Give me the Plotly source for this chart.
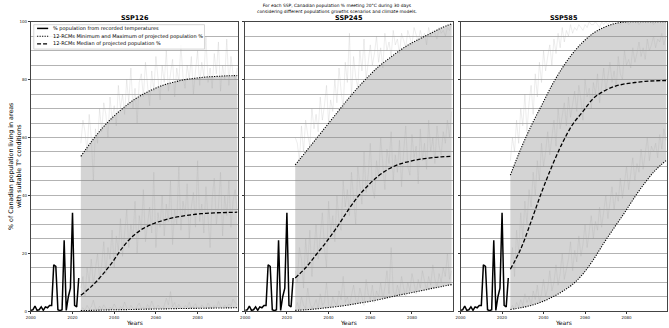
import plotly.graph_objects as go

W, H = 669, 328

# ---------------- data ----------------
obs_years = list(range(2000, 2024))
obs_values = [0.3, 0.5, 1.8, 0.3, 0.5, 1.5, 0.3, 1.5, 1.2, 2.0, 2.0, 16.0,
              15.5, 0.5, 0.2, 0.5, 24.5, 0.3, 5.0, 8.0, 34.0, 2.0, 1.5, 11.5]

proj_years = list(range(2024, 2100))
curve_years = [2024, 2029, 2034, 2039, 2044, 2049, 2054, 2059,
               2064, 2069, 2074, 2079, 2084, 2089, 2094, 2099]

scenarios = ["SSP126", "SSP245", "SSP585"]

# smoothed min / median / max curves
ssp126_max = [53.5, 58.5, 63.0, 66.8, 70.0, 72.8, 75.0, 76.8, 78.2, 79.2, 80.0, 80.5, 80.9, 81.1, 81.3, 81.4]
ssp126_med = [5.5, 8.5, 12.3, 16.8, 22.0, 26.0, 28.6, 30.3, 31.5, 32.4, 33.0, 33.5, 33.8, 34.0, 34.1, 34.2]
ssp126_min = [0.2, 0.3, 0.4, 0.5, 0.55, 0.6, 0.7, 0.75, 0.8, 0.9, 0.95, 1.0, 1.05, 1.1, 1.15, 1.2]

ssp245_max = [50.5, 55.0, 59.5, 64.0, 68.5, 73.0, 77.2, 81.0, 84.5, 87.3, 90.0, 92.3, 94.2, 96.0, 97.8, 99.3]
ssp245_med = [11.5, 15.0, 19.5, 24.0, 29.0, 34.5, 39.5, 43.5, 46.8, 49.2, 50.8, 51.8, 52.5, 53.0, 53.3, 53.5]
ssp245_min = [0.3, 0.5, 0.8, 1.2, 1.6, 2.1, 2.7, 3.3, 4.0, 4.8, 5.6, 6.3, 7.0, 7.8, 8.5, 9.2]

ssp585_max = [47.0, 56.0, 64.0, 71.0, 78.0, 84.0, 89.0, 93.0, 96.0, 98.0, 99.3, 99.9, 100.0, 100.0, 100.0, 100.0]
ssp585_med = [14.5, 21.5, 31.0, 41.0, 50.0, 58.0, 64.5, 69.0, 73.5, 76.0, 77.6, 78.5, 79.0, 79.4, 79.6, 79.7]
ssp585_min = [0.6, 1.2, 2.0, 3.2, 4.8, 6.8, 9.3, 12.9, 17.8, 23.5, 28.8, 34.0, 39.5, 44.5, 48.8, 52.0]

# raw yearly projections (light grey)
ssp126_raw_max = [58, 66, 62, 55, 68, 60, 45, 63, 58, 70,
                  62, 72, 68, 60, 74, 66, 71, 64, 78, 70,
                  75, 68, 80, 72, 84, 70, 77, 65, 79, 82,
                  74, 86, 78, 71, 83, 76, 88, 80, 73, 85,
                  79, 90, 76, 82, 87, 74, 84, 79, 92, 81,
                  77, 85, 80, 88, 75, 83, 90, 78, 86, 81,
                  95, 79, 84, 77, 89, 82, 93, 76, 85, 80,
                  94, 78, 88, 82, 80, 84]
ssp126_raw_med = [8, 12, 5, 15, 10, 18, 9, 14, 20, 11,
                  16, 24, 13, 22, 18, 28, 15, 26, 21, 32,
                  19, 27, 35, 22, 30, 25, 38, 20, 33, 28,
                  42, 24, 31, 36, 27, 48, 22, 34, 29, 40,
                  26, 37, 31, 45, 23, 35, 30, 50, 28, 38,
                  33, 44, 25, 36, 41, 29, 52, 31, 37, 27,
                  43, 34, 22, 39, 46, 30, 36, 48, 26, 40,
                  33, 45, 29, 38, 42, 35]
ssp126_raw_min = [0.5, 1.2, 0.3, 2.0, 0.8, 1.5, 3.8, 1.0, 0.4, 1.8,
                  0.6, 2.2, 1.0, 0.5, 1.4, 0.8, 2.5, 1.1, 0.3, 1.6,
                  0.9, 3.2, 1.2, 0.5, 2.0, 1.0, 0.6, 1.8, 2.8, 0.9,
                  1.4, 0.7, 2.3, 1.1, 3.5, 1.6, 0.8, 2.1, 1.3, 0.6,
                  1.9, 4.5, 2.2, 6.8, 1.5, 3.0, 1.0, 2.4, 1.2, 0.8,
                  2.0, 1.3, 3.1, 0.9, 1.7, 2.6, 1.1, 0.7, 2.2, 1.4,
                  1.0, 2.8, 1.6, 0.8, 2.0, 1.2, 3.4, 1.5, 0.9, 2.1,
                  1.3, 2.5, 1.8, 4.2, 3.0, 2.2]

ssp245_raw_max = [60, 58, 52, 64, 55, 66, 61, 57, 70, 63,
                  68, 62, 74, 66, 71, 78, 65, 73, 69, 80,
                  72, 84, 76, 70, 86, 79, 96, 74, 88, 81,
                  77, 90, 83, 94, 80, 87, 92, 85, 89, 95,
                  86, 91, 84, 96, 90, 93, 88, 97, 92, 94,
                  89, 96, 93, 91, 97, 94, 92, 98, 95, 93,
                  97, 94, 96, 92, 98, 95, 97, 96, 94, 98,
                  96, 97, 95, 98, 97, 99]
ssp245_raw_med = [14, 10, 22, 18, 8, 25, 16, 28, 12, 20,
                  30, 18, 26, 34, 22, 15, 38, 27, 33, 24,
                  40, 31, 28, 45, 36, 42, 33, 48, 39, 30,
                  50, 44, 37, 55, 41, 47, 58, 43, 39, 52,
                  46, 60, 49, 42, 56, 51, 62, 45, 54, 48,
                  59, 43, 55, 64, 50, 47, 61, 53, 57, 44,
                  63, 52, 58, 49, 66, 55, 60, 51, 64, 57,
                  54, 62, 58, 66, 60, 69]
ssp245_raw_min = [1, 3, 0.5, 5, 2, 1, 8, 3, 1, 2,
                  4, 1, 6, 2, 3, 10, 2, 1, 5, 3,
                  2, 7, 4, 12, 3, 5, 2, 6, 9, 4,
                  3, 8, 5, 2, 11, 6, 4, 9, 3, 7,
                  5, 10, 4, 8, 14, 6, 22, 7, 5, 9,
                  6, 12, 8, 5, 10, 7, 13, 9, 6, 11,
                  8, 14, 10, 7, 12, 9, 16, 11, 8, 13,
                  10, 15, 12, 20, 11, 14]

ssp585_raw_max = [52, 60, 55, 66, 58, 70, 64, 75, 62, 72,
                  78, 68, 82, 74, 86, 79, 90, 83, 88, 92,
                  85, 94, 89, 96, 91, 98, 93, 97, 95, 99,
                  96, 98, 97, 99, 98, 97, 99, 98, 100, 99,
                  99, 100, 99, 98, 100, 99, 100, 99, 100, 100,
                  99, 100, 100, 99, 100, 100, 100, 99, 100, 100,
                  100, 100, 99, 100, 100, 100, 100, 100, 100, 99,
                  100, 100, 100, 100, 100, 100]
ssp585_raw_med = [16, 22, 12, 28, 20, 34, 25, 38, 30, 42,
                  36, 48, 40, 52, 45, 58, 50, 55, 62, 54,
                  60, 66, 57, 70, 63, 68, 72, 64, 74, 67,
                  71, 76, 69, 78, 73, 66, 80, 74, 77, 70,
                  79, 75, 82, 72, 78, 84, 76, 81, 86, 79,
                  83, 77, 88, 82, 80, 90, 85, 87, 84, 91,
                  86, 89, 93, 88, 91, 87, 94, 90, 92, 95,
                  91, 94, 93, 96, 92, 95]
ssp585_raw_min = [1, 2, 0.5, 3, 1.5, 4, 2, 6, 3, 5,
                  2, 7, 4, 9, 3, 6, 11, 5, 8, 14,
                  7, 10, 16, 9, 13, 20, 11, 15, 18, 24,
                  14, 21, 17, 26, 19, 23, 30, 22, 27, 33,
                  25, 31, 28, 36, 29, 34, 40, 32, 37, 43,
                  35, 41, 38, 46, 39, 44, 50, 42, 47, 53,
                  45, 51, 48, 56, 49, 54, 60, 52, 57, 55,
                  58, 53, 61, 56, 63, 59]

curves = {
    "SSP126": (ssp126_min, ssp126_med, ssp126_max, [ssp126_raw_max, ssp126_raw_med, ssp126_raw_min]),
    "SSP245": (ssp245_min, ssp245_med, ssp245_max, [ssp245_raw_max, ssp245_raw_med, ssp245_raw_min]),
    "SSP585": (ssp585_min, ssp585_med, ssp585_max, [ssp585_raw_max, ssp585_raw_med, ssp585_raw_min]),
}

legend_labels = ["% population from recorded temperatures",
                 "12-RCMs Minimum and Maximum of projected population %",
                 "12-RCMs Median of projected population %"]
x_tick_vals = [2000, 2020, 2040, 2060, 2080]
y_tick_vals = [0, 20, 40, 60, 80, 100]

# ---------------- layout helpers ----------------
def px(x):
    return x / W

def py(y):
    return 1 - y / H

FONT = "DejaVu Sans"
x_domains = [(26, 235), (242, 451), (459, 667)]
y_dom = [py(313), py(19)]

DOT = "1.2px,1.3px"
DASH = "4px,2px"

fig = go.Figure()
layout = dict(
    width=W, height=H, margin=dict(l=0, r=0, t=0, b=0),
    paper_bgcolor="white", plot_bgcolor="white",
    showlegend=False, font=dict(family=FONT, color="black"),
)
annotations = []
shapes = []

for i, name in enumerate(scenarios):
    k = i + 1
    xa = "x" if k == 1 else f"x{k}"
    ya = "y" if k == 1 else f"y{k}"
    cmin, cmed, cmax, raws = curves[name]

    fig.add_trace(go.Scatter(x=curve_years, y=cmin, mode="lines", xaxis=xa, yaxis=ya,
                             line=dict(color="black", width=1.1, dash=DOT, shape="spline"),
                             hoverinfo="skip"))
    fig.add_trace(go.Scatter(x=curve_years, y=cmax, mode="lines", xaxis=xa, yaxis=ya,
                             fill="tonexty", fillcolor="rgba(128,128,128,0.34)",
                             line=dict(color="black", width=1.1, dash=DOT, shape="spline"),
                             hoverinfo="skip"))
    for r in raws:
        fig.add_trace(go.Scatter(x=proj_years, y=r, mode="lines", xaxis=xa, yaxis=ya,
                                 line=dict(color="rgba(160,160,160,0.32)", width=0.6),
                                 hoverinfo="skip"))
    fig.add_trace(go.Scatter(x=curve_years, y=cmed, mode="lines", xaxis=xa, yaxis=ya,
                             line=dict(color="black", width=1.3, dash=DASH, shape="spline"),
                             hoverinfo="skip"))
    fig.add_trace(go.Scatter(x=obs_years, y=obs_values, mode="lines", xaxis=xa, yaxis=ya,
                             line=dict(color="black", width=1.5), hoverinfo="skip"))

    d0, d1 = x_domains[i]
    layout["xaxis" if k == 1 else f"xaxis{k}"] = dict(
        domain=[px(d0), px(d1)], anchor=ya, range=[2000, 2099.5],
        tickvals=x_tick_vals, ticks="outside", ticklen=2, tickwidth=0.6, tickcolor="#333",
        tickfont=dict(size=4, family=FONT, color="#222"),
        showgrid=False, zeroline=False, showline=True, linecolor="#444", linewidth=0.8,
        mirror=True,
    )
    layout["yaxis" if k == 1 else f"yaxis{k}"] = dict(
        domain=y_dom, anchor=xa, range=[0, 100],
        tickvals=y_tick_vals, ticks="outside", ticklen=2, tickwidth=0.6, tickcolor="#333",
        tickfont=dict(size=4, family=FONT, color="#222"), showticklabels=(k == 1),
        showgrid=True, gridcolor="#b3b3b3", gridwidth=0.8,
        minor=dict(dtick=5, showgrid=True, gridcolor="#b3b3b3", gridwidth=0.8, ticks=""),
        zeroline=False, showline=True, linecolor="#444", linewidth=0.8, mirror=True,
    )
    cx = (d0 + d1) / 2
    annotations.append(dict(text=f"<b>{name}</b>", x=px(cx), y=py(15), xref="paper", yref="paper",
                            showarrow=False, xanchor="center", yanchor="middle", borderpad=0,
                            font=dict(size=6.5, family=FONT, color="black")))
    annotations.append(dict(text="Years", x=px(cx), y=py(324.5), xref="paper", yref="paper",
                            showarrow=False, xanchor="center", yanchor="middle", borderpad=0,
                            font=dict(size=6, family=FONT, color="black")))

# suptitle
annotations.append(dict(
    text="For each SSP, Canadian population % meeting 20°C during 30 days<br>"
         "considering different populations growths scenarios and climate models.",
    x=0.5, y=py(6), xref="paper", yref="paper", showarrow=False, borderpad=0,
    xanchor="center", yanchor="middle", font=dict(size=4.4, family=FONT, color="black")))

# y axis title
annotations.append(dict(
    text="% of Canadian population living in areas<br>with suitable T° conditions",
    x=px(9.5), y=py(166), xref="paper", yref="paper", showarrow=False, textangle=-90,
    xanchor="center", yanchor="middle", font=dict(size=6.3, family=FONT, color="black")))

# legend box (drawn in panel 1)
shapes.append(dict(type="rect", xref="paper", yref="paper",
                   x0=px(29), x1=px(201), y0=py(46.8), y1=py(22),
                   line=dict(color="#cccccc", width=0.8), fillcolor="rgba(255,255,255,0.85)",
                   layer="above"))
legend_rows = [25.8, 33.8, 41.6]
legend_dash = ["solid", DOT, DASH]
legend_w = [1.5, 1.1, 1.3]
for row, lab, dsh, lw in zip(legend_rows, legend_labels, legend_dash, legend_w):
    shapes.append(dict(type="line", xref="paper", yref="paper",
                       x0=px(32.3), x1=px(43.5), y0=py(row), y1=py(row),
                       line=dict(color="black", width=lw, dash=dsh), layer="above"))
    annotations.append(dict(text=lab, x=px(46.5), y=py(row), xref="paper", yref="paper",
                            showarrow=False, xanchor="left", yanchor="middle",
                            font=dict(size=5, family=FONT, color="black")))

layout["annotations"] = annotations
layout["shapes"] = shapes
fig.update_layout(**layout)
fig.write_html("out.html")
